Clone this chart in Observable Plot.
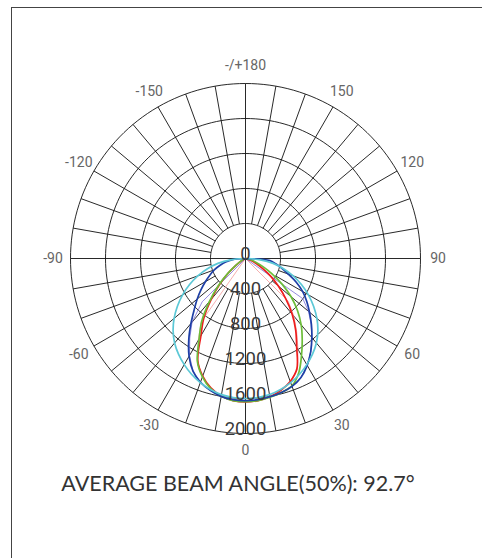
<!DOCTYPE html>
<html>
<head>
<meta charset="utf-8">
<script src="https://cdn.jsdelivr.net/npm/d3@7"></script>
<script src="https://cdn.jsdelivr.net/npm/@observablehq/plot@0.6"></script>
<style>
  html, body { margin: 0; padding: 0; background: #fff; }
  #wrap { position: relative; width: 482px; height: 558px; overflow: hidden; }
  #frame { position: absolute; left: 11px; top: 7px; width: 560px; height: 640px; border-left: 1px solid #444; border-top: 1px solid #444; }
  #chart { position: absolute; left: 0; top: 0; }
  #caption { position: absolute; left: 0; top: 469px; width: 476px; text-align: center; font-family: Lato, sans-serif; font-size: 21.5px; line-height: 28px; color: #333; white-space: nowrap; }
</style>
</head>
<body>
<div id="wrap">
  <div id="frame"></div>
  <div id="chart"></div>
  <div id="caption">AVERAGE BEAM ANGLE(50%): 92.7°</div>
</div>
<script>
// ---- data ----
const angles = d3.range(-90, 91, 5); // gamma angle, 0 = straight down

const cyanValues = [20,170,320,450,580,705,830,950,1065,1170,1260,1335,1400,1460,1510,1550,1580,1595,1600,1595,1580,1550,1510,1460,1400,1335,1260,1170,1065,950,830,705,580,450,320,170,20];
const blueValues = [0,150,230,300,380,450,530,620,720,830,970,1130,1290,1420,1505,1560,1600,1620,1625,1620,1605,1585,1555,1500,1410,1300,1180,1065,955,855,755,640,520,430,350,280,0];
const greenValues = [0,0,0,0,10,30,70,140,260,440,640,870,1060,1300,1440,1540,1600,1630,1635,1630,1610,1585,1550,1440,1280,1130,990,840,680,510,350,220,130,70,30,10,0];
const redValues = [0,0,0,0,10,25,60,130,250,420,610,830,1020,1290,1430,1530,1595,1630,1640,1630,1605,1560,1495,1390,1170,1000,830,650,490,350,220,130,70,30,10,0,0];
const pinkValues = [0,0,0,0,0,0,0,0,0,0,0,880,1080,1300,1440,1540,1600,1630,1635,1630,1605,1565,1500,1400,1200,1020,860,690,0,0,0,0,0,0,0,0,0];
const purpleValues = [0,0,0,0,0,0,0,0,0,700,950,1110,1280,1420,1505,1560,1600,1620,1625,1620,1605,1585,1555,1500,1410,1300,1180,1060,940,800,0,0,0,0,0,0,0];

const ringValues = [400, 800, 1200, 1600, 2000];
const ringLabels = ["0", "400", "800", "1200", "1600", "2000"];
const ringLabelValues = [0, 400, 800, 1200, 1600, 2000];
const tickAngles = [180, 150, 120, 90, 60, 30, 0, -30, -60, -90, -120, -150];
const tickLabels = ["-/+180", "150", "120", "90", "60", "30", "0", "-30", "-60", "-90", "-120", "-150"];

// ---- helpers ----
const rad = (a) => a * Math.PI / 180;
const px = (a, r) => r * Math.sin(rad(a));
const py = (a, r) => -r * Math.cos(rad(a));

function seriesPoints(name, values) {
  const pts = [];
  angles.forEach((a, i) => {
    const p = {name, x: px(a, values[i]), y: py(a, values[i])};
    const last = pts[pts.length - 1];
    if (last && Math.abs(last.x - p.x) < 1e-6 && Math.abs(last.y - p.y) < 1e-6) return;
    pts.push(p);
  });
  return pts;
}

const ringPts = ringValues.flatMap((r) => d3.range(0, 361, 2).map((a) => ({ring: r, x: px(a, r), y: py(a, r)})));
const spokes = d3.range(0, 360, 10).map((a) => {
  const r0 = a % 90 === 0 ? 0 : 400;
  return {x1: px(a, r0), y1: py(a, r0), x2: px(a, 2000), y2: py(a, 2000)};
});
const tickPts = tickAngles.map((a, i) => ({label: tickLabels[i], x: px(a, 2200), y: py(a, 2200)}));
const ringLabelPts = ringLabelValues.map((v, i) => ({label: ringLabels[i], x: 0, y: -v}));

const thinSeries = [
  {pts: seriesPoints("pink", pinkValues), color: "#f29a9a"},
  {pts: seriesPoints("purple", purpleValues), color: "#7b6fd6"}
];
const mainSeries = [
  {pts: seriesPoints("red", redValues), color: "#ee1c1c"},
  {pts: seriesPoints("green", greenValues), color: "#6cbd3a"},
  {pts: seriesPoints("blue", blueValues), color: "#1e3fa6"},
  {pts: seriesPoints("cyan", cyanValues), color: "#5cc8d6"}
];

const chart = Plot.plot({
  width: 482,
  height: 470,
  marginLeft: 70,
  marginRight: 62,
  marginTop: 83,
  marginBottom: 37,
  x: {domain: [-2000, 2000], axis: null},
  y: {domain: [-2000, 2000], axis: null},
  style: {background: "transparent", overflow: "visible"},
  marks: [
    Plot.link(spokes, {x1: "x1", y1: "y1", x2: "x2", y2: "y2", stroke: "#111", strokeWidth: 0.9}),
    Plot.line(ringPts, {x: "x", y: "y", z: "ring", stroke: "#111", strokeWidth: 0.9}),
    ...thinSeries.map((s) => Plot.line(s.pts, {x: "x", y: "y", stroke: s.color, strokeWidth: 0.8})),
    ...mainSeries.map((s) => Plot.line(s.pts, {x: "x", y: "y", stroke: s.color, strokeWidth: 1.7, curve: "catmull-rom"})),
    Plot.text(ringLabelPts, {x: "x", y: "y", text: "label", lineAnchor: "bottom", dy: 1, fontSize: 18.5, fill: "#3a3a3a", fontFamily: "Roboto, sans-serif"}),
    Plot.text(tickPts, {x: "x", y: "y", text: "label", fontSize: 14, fill: "#666", fontFamily: "Roboto, sans-serif"})
  ]
});
document.getElementById("chart").appendChild(chart);
</script>
</body>
</html>
